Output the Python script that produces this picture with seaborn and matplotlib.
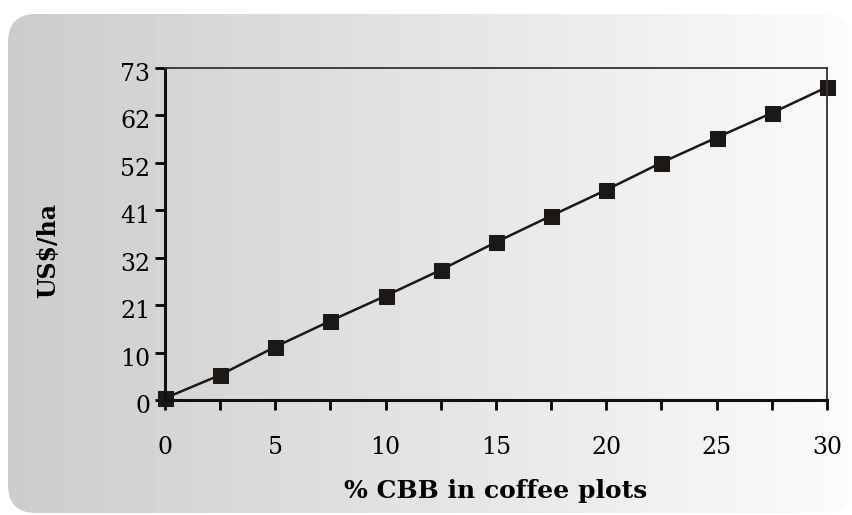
import numpy as np
import pandas as pd
import matplotlib
matplotlib.use("Agg")
import matplotlib.pyplot as plt
from matplotlib.patches import FancyBboxPatch
import matplotlib.transforms as mtransforms
import seaborn as sns

# ---- data ----
cbb_pct = [0, 2.5, 5, 7.5, 10, 12.5, 15, 17.5, 20, 22.5, 25, 27.5, 30]
usd_ha = [0.4, 5.5, 11.7, 17.4, 22.9, 28.6, 34.7, 40.5, 46.2, 52.2, 57.7, 63.1, 68.8]
y_tick_labels = ["0", "10", "21", "32", "41", "52", "62", "73"]
x_tick_labels = ["0", "", "5", "", "10", "", "15", "", "20", "", "25", "", "30"]
x_label = "% CBB in coffee plots"
y_label = "US$/ha"

df = pd.DataFrame({"cbb": cbb_pct, "usd": usd_ha})

sns.set_style("white")
plt.rcParams['font.family'] = ['DejaVu Serif']
plt.rcParams['text.color'] = 'black'
plt.rcParams['axes.labelcolor'] = 'black'

W, H = 853, 515
fig = plt.figure(figsize=(W / 100, H / 100), dpi=100)
fig.patch.set_facecolor("white")

# background gradient with rounded corners
bg = fig.add_axes([0, 0, 1, 1])
bg.set_xlim(0, W)
bg.set_ylim(H, 0)
bg.axis("off")
grad = np.linspace(0.80, 0.985, 256)[None, :]
im = bg.imshow(grad, cmap="gray", vmin=0, vmax=1, aspect="auto",
               extent=[8, W - 2, H - 2, 14], interpolation="bilinear")
clip = FancyBboxPatch((8, 14), W - 10, H - 16,
                      boxstyle="round,pad=0,rounding_size=28",
                      transform=bg.transData, facecolor="none", edgecolor="none")
bg.add_patch(clip)
im.set_clip_path(clip)

# main axes
ax = fig.add_axes([165 / W, 1 - 400 / H, (827 - 165) / W, (400 - 68) / H])
ax.set_facecolor("none")
sns.lineplot(data=df, x="cbb", y="usd", ax=ax, color="#1c1816", linewidth=1.8,
             marker="s", markersize=10.8, markeredgecolor="#1c1816",
             markerfacecolor="#1c1816", clip_on=False)

ax.set_xlim(0, 30)
ax.set_ylim(0, 73)
ax.set_xticks(cbb_pct)
ax.set_xticklabels(x_tick_labels)
ax.set_yticks(np.linspace(0, 73, len(y_tick_labels)))
ax.set_yticklabels(y_tick_labels)

ax.tick_params(axis="both", direction="out", length=7, width=2, color="black",
               labelsize=17, labelcolor="black", bottom=True, left=True)
ax.tick_params(axis="x", pad=19)
ax.tick_params(axis="y", pad=3.5)
shift = mtransforms.ScaledTranslation(0, -4 / 100, fig.dpi_scale_trans)
for lbl in ax.get_yticklabels():
    lbl.set_transform(lbl.get_transform() + shift)

for side in ["left", "bottom"]:
    ax.spines[side].set_linewidth(2.2)
    ax.spines[side].set_color("#111111")
for side in ["top", "right"]:
    ax.spines[side].set_visible(True)
    ax.spines[side].set_linewidth(1.3)
    ax.spines[side].set_color("#333333")

ax.set_xlabel(x_label, fontsize=18, fontweight="bold", labelpad=14)
ax.set_ylabel(y_label, fontsize=17, fontweight="heavy")
ax.yaxis.set_label_coords((60 - 165) / 662, 0.45)

fig.savefig("out.png", dpi=100)
